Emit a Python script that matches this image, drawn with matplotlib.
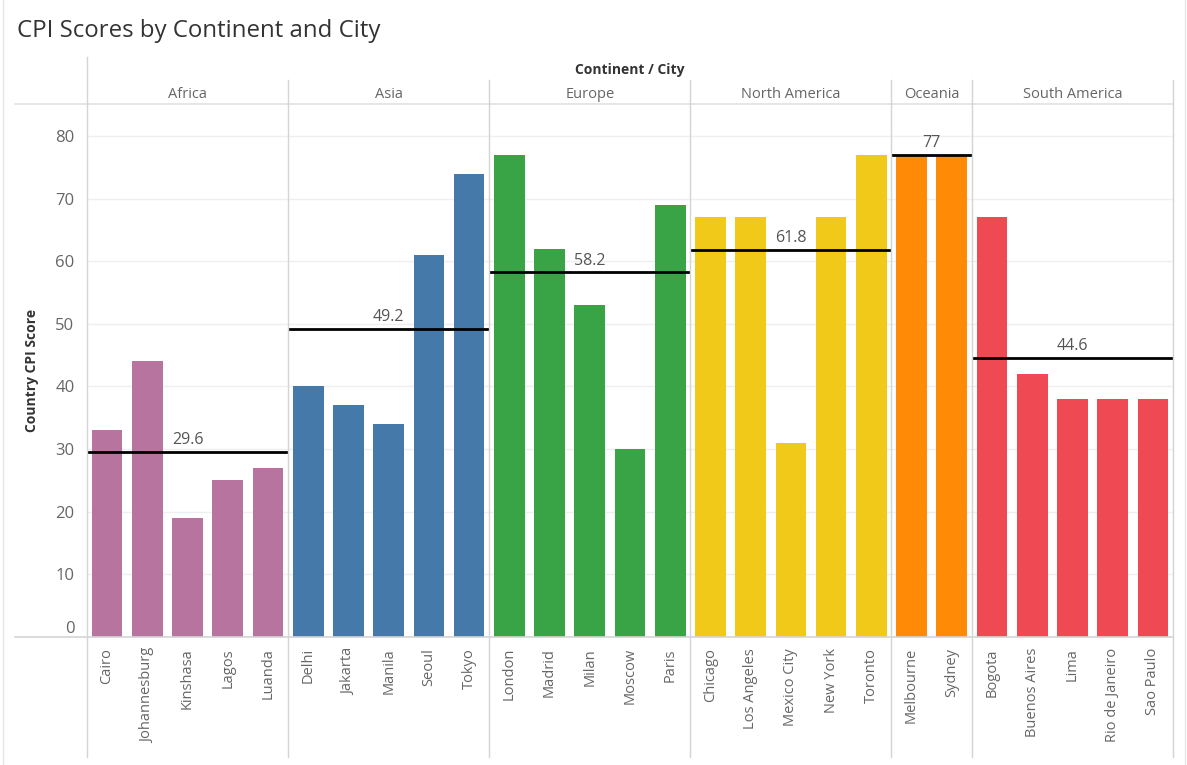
import numpy as np
import matplotlib
matplotlib.use("Agg")
import matplotlib.pyplot as plt
from matplotlib.lines import Line2D

plt.rcParams['font.family'] = ['Open Sans', 'DejaVu Sans']

continents = ['Africa', 'Asia', 'Europe', 'North America', 'Oceania', 'South America']
cities = [
    ['Cairo', 'Johannesburg', 'Kinshasa', 'Lagos', 'Luanda'],
    ['Delhi', 'Jakarta', 'Manila', 'Seoul', 'Tokyo'],
    ['London', 'Madrid', 'Milan', 'Moscow', 'Paris'],
    ['Chicago', 'Los Angeles', 'Mexico City', 'New York', 'Toronto'],
    ['Melbourne', 'Sydney'],
    ['Bogota', 'Buenos Aires', 'Lima', 'Rio de Janeiro', 'Sao Paulo'],
]
scores = [
    [33, 44, 19, 25, 27],
    [40, 37, 34, 61, 74],
    [77, 62, 53, 30, 69],
    [67, 67, 31, 67, 77],
    [77, 77],
    [67, 42, 38, 38, 38],
]
colors = ['#b7749f', '#4479aa', '#38a446', '#f1c918', '#fe8a05', '#ef4a53']

W, H = 1187, 765
fig = plt.figure(figsize=(W / 100, H / 100), dpi=100)
L, R, T, B = 87, 1173, 104, 637
ax = fig.add_axes([L / W, 1 - B / H, (R - L) / W, (B - T) / H])

grid_c = '#efefef'
sep_c = '#d4d4d4'
txt_c = '#666666'

x0 = 0
bounds = [0]
for ci, (cs, vals) in enumerate(zip(cities, scores)):
    xs = np.arange(x0, x0 + len(cs))
    ax.bar(xs, vals, width=0.76, color=colors[ci], zorder=2)
    avg = np.mean(vals)
    ax.plot([x0 - 0.5, x0 + len(cs) - 0.5], [avg, avg], color='black', lw=2, zorder=3,
            solid_capstyle='butt')
    ax.text(x0 + (len(cs) - 1) / 2, avg + 0.6, f'{avg:g}', ha='center', va='bottom',
            fontsize=11.5, color='#555555', zorder=4)
    x0 += len(cs)
    bounds.append(x0)

n = x0
ax.set_xlim(-0.5, n - 0.5)
ax.set_ylim(0, 85.1)
ax.set_yticks(range(0, 90, 10))
ax.yaxis.grid(True, color=grid_c, lw=1, zorder=0)
ax.set_axisbelow(True)
all_cities = [c for cs in cities for c in cs]
ax.set_xticks(range(n))
ax.set_xticklabels(all_cities, rotation=90, fontsize=10.5, color=txt_c)
ax.tick_params(axis='x', length=0, pad=8)
ax.tick_params(axis='y', length=0, labelsize=12, labelcolor=txt_c, pad=9)
# tableau lifts the zero label above the axis line
ax.yaxis.get_major_ticks()[0].label1.set_va('bottom')
for s in ax.spines.values():
    s.set_visible(False)
ax.set_ylabel('Country CPI Score', fontsize=10, fontweight='bold', color='#333333', labelpad=12)

# figure-level frame lines in pixel coords
def fline(x1, y1, x2, y2, c=sep_c, lw=1):
    fig.add_artist(Line2D([x1 / W, x2 / W], [1 - y1 / H, 1 - y2 / H], color=c, lw=lw,
                          transform=fig.transFigure))

slot = (R - L) / n
# header / axis horizontal lines
fline(15, T, R, T, c='#e2e2e2', lw=1.2)
fline(15, B, R, B, c=sep_c, lw=1.2)
# left axis line of panes
fline(L, 57, L, 757)
# continent separators
for i, b in enumerate(bounds):
    px = L + b * slot
    if 0 < b < n:
        fline(px, 80, px, 757)
fline(R, 80, R, 757)
# outer dashboard frame
fline(3, 0, 3, 765, c='#e6e6e6')
fline(1185, 0, 1185, 765, c='#e6e6e6')

for ci, cont in enumerate(continents):
    cx = L + (bounds[ci] + bounds[ci + 1]) / 2 * slot
    fig.text(cx / W, 1 - 94 / H, cont, ha='center', va='center', fontsize=10.5, color=txt_c)

fig.text((L + R) / 2 / W, 1 - 70 / H, 'Continent / City', ha='center', va='center',
         fontsize=10, fontweight='bold', color='#333333')
fig.text(17 / W, 1 - 31 / H, 'CPI Scores by Continent and City', ha='left', va='center',
         fontsize=17.3, color='#333333')

fig.savefig('out.png', dpi=100)
